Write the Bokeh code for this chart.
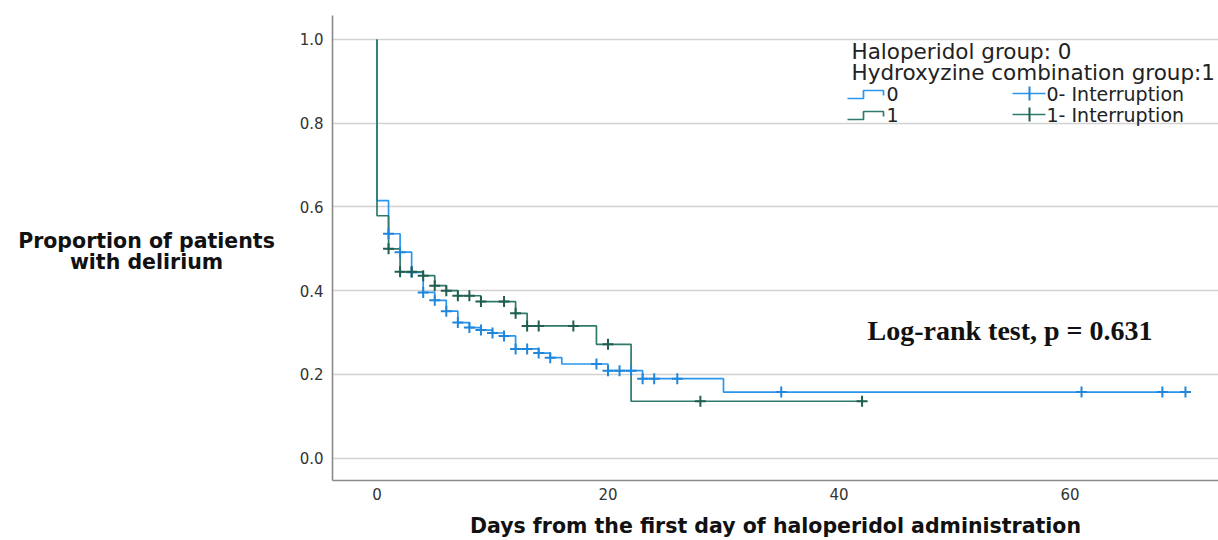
import numpy as np
from bokeh.plotting import figure
from bokeh.layouts import row
from bokeh.models import Range1d, Label, PrintfTickFormatter
from bokeh.embed import file_html
from bokeh.resources import INLINE

# ---------------- data ----------------
# Group 0 (light blue): event days and survival proportion after the events
days_0 = [0, 1, 2, 3, 4, 5, 6, 7, 8, 9, 10, 11, 12, 14, 15, 16, 20, 23, 30]
surv_0 = [0.615, 0.536, 0.492, 0.444, 0.396, 0.377, 0.351, 0.324, 0.312, 0.306,
          0.299, 0.292, 0.261, 0.251, 0.240, 0.225, 0.209, 0.190, 0.158]
cens_0 = [1, 2, 3, 4, 5, 6, 7, 8, 9, 10, 11, 12, 13, 14, 15, 19, 20, 21, 22,
          23, 24, 26, 35, 61, 68, 70]
end_0 = 70

# Group 1 (dark teal)
days_1 = [0, 1, 2, 4, 5, 6, 7, 9, 12, 13, 19, 22]
surv_1 = [0.579, 0.500, 0.445, 0.436, 0.412, 0.400, 0.388, 0.374, 0.346,
          0.316, 0.272, 0.136]
cens_1 = [1, 2, 3, 4, 5, 6, 7, 8, 9, 11, 12, 13, 14, 17, 20, 28, 42]
end_1 = 42

x_ticks = [0, 20, 40, 60]
y_ticks = [0.0, 0.2, 0.4, 0.6, 0.8, 1.0]

x_title = "Days from the first day of haloperidol administration"
y_title = ["Proportion of patients", "with delirium"]
legend_title = ["Haloperidol group: 0", "Hydroxyzine combination group:1"]
legend_labels = ["0", "1"]
legend_cens_labels = ["0- Interruption", "1- Interruption"]
test_text = "Log-rank test, p = 0.631"

BLUE = "#2b96ec"
BLUE_MARK = "#1f86db"
TEAL = "#2f7a6c"
TEAL_MARK = "#1f5e50"

# ---------------- layout ----------------
W, H = 1218, 540
LW = 290                                  # width of the left title panel
FL, FR, FT, FB = 332, 1218, 15, 480       # frame edges in page pixels
X0, X1 = -3.853, 72.86
Y0, Y1 = -0.0533, 1.0573


def dx(px):   # page pixel -> data x
    return X0 + (px - FL) / (FR - FL) * (X1 - X0)


def dy(py):   # page pixel -> data y
    return Y1 - (py - FT) / (FB - FT) * (Y1 - Y0)


def km_path(days, surv, end):
    xs = [0] + list(days) + [end]
    ys = [1.0] + list(surv) + [surv[-1]]
    return xs, ys


def value_at(days, surv, d):
    i = np.searchsorted(np.asarray(days), d, side="right") - 1
    return surv[i]


# ---- left panel holding the horizontal y-axis title ----
# (its frame is aligned with the main plot's frame, rows FT..FB)
left = figure(width=LW, height=H, x_range=Range1d(0, LW), y_range=Range1d(FB, FT),
              output_backend="svg", toolbar_location=None,
              x_axis_type=None, y_axis_type=None,
              min_border_left=0, min_border_right=0, min_border_top=0, min_border_bottom=0)
left.outline_line_color = None
left.xgrid.visible = False
left.ygrid.visible = False
left.border_fill_color = "white"
for t, yy in zip(y_title, [240, 261]):
    left.add_layout(Label(x=146, y=yy, text=t, text_font="DejaVu Sans",
                          text_font_style="bold", text_font_size="20.5px",
                          text_color="#111111", text_baseline="middle", text_align="center"))

# ---- main plot ----
p = figure(width=W - LW, height=H, x_range=Range1d(X0, X1), y_range=Range1d(Y0, Y1),
           output_backend="svg", toolbar_location=None,
           min_border_left=FL - LW, min_border_right=W - FR,
           min_border_top=FT, min_border_bottom=H - FB)
p.outline_line_color = None
p.background_fill_color = "white"
p.border_fill_color = "white"

p.xgrid.grid_line_color = None
p.ygrid.grid_line_color = "#d2d2d2"
p.ygrid.grid_line_width = 1.6

for ax in (p.xaxis, p.yaxis):
    ax.axis_line_color = "#8a8a8a"
    ax.axis_line_width = 1.6
    ax.major_tick_line_color = None
    ax.minor_tick_line_color = None
    ax.major_tick_out = 0
    ax.major_tick_in = 0
    ax.major_label_text_font = "DejaVu Sans"
    ax.major_label_text_color = "#333333"
    ax.major_label_text_font_size = "15px"

p.xaxis.ticker = x_ticks
p.yaxis.ticker = y_ticks
p.yaxis.formatter = PrintfTickFormatter(format="%.1f")
p.xaxis.major_label_standoff = 7
p.yaxis.major_label_standoff = 9

p.xaxis.axis_label = x_title
p.xaxis.axis_label_text_font = "DejaVu Sans"
p.xaxis.axis_label_text_font_style = "bold"
p.xaxis.axis_label_text_font_size = "20.5px"
p.xaxis.axis_label_text_color = "#111111"
p.xaxis.axis_label_standoff = 11

# ---------------- curves ----------------
x0, y0 = km_path(days_0, surv_0, end_0)
x1, y1 = km_path(days_1, surv_1, end_1)
p.step(x0, y0, mode="after", line_color=BLUE, line_width=1.7)
p.step(x1, y1, mode="after", line_color=TEAL, line_width=1.7)

c0y = [value_at(days_0, surv_0, d) for d in cens_0]
c1y = [value_at(days_1, surv_1, d) for d in cens_1]
p.scatter(cens_0, c0y, marker="cross", size=11, line_color=BLUE_MARK, line_width=2)
p.scatter(cens_1, c1y, marker="cross", size=11, line_color=TEAL_MARK, line_width=2)

# ---------------- legend (drawn by hand) ----------------
for t, yy in zip(legend_title, [51, 72]):
    p.add_layout(Label(x=dx(851), y=dy(yy), text=t, text_font="DejaVu Sans",
                       text_font_size="21.5px", text_color="#222222",
                       text_baseline="middle", text_align="left"))

for lab, clab, col, mcol, yy in zip(legend_labels, legend_cens_labels,
                                    [BLUE, TEAL], [BLUE_MARK, TEAL_MARK], [93, 114]):
    # step-shaped icon
    p.line([dx(847), dx(863), dx(863), dx(883), dx(883)],
           [dy(yy + 5), dy(yy + 5), dy(yy - 3), dy(yy - 3), dy(yy + 2)],
           line_color=col, line_width=1.7)
    p.add_layout(Label(x=dx(886), y=dy(yy), text=lab, text_font="DejaVu Sans",
                       text_font_size="19px", text_color="#222222",
                       text_baseline="middle", text_align="left"))
    # censor icon
    p.line([dx(1012), dx(1045)], [dy(yy), dy(yy)], line_color=col, line_width=1.7)
    p.line([dx(1029), dx(1029)], [dy(yy - 7), dy(yy + 7)], line_color=mcol, line_width=2)
    p.add_layout(Label(x=dx(1046), y=dy(yy), text=clab, text_font="DejaVu Sans",
                       text_font_size="19px", text_color="#222222",
                       text_baseline="middle", text_align="left"))

# ---------------- test annotation ----------------
p.add_layout(Label(x=dx(867), y=dy(330), text=test_text, text_font="Liberation Serif",
                   text_font_style="bold", text_font_size="28px", text_color="#111111",
                   text_baseline="middle", text_align="left"))

layout = row(left, p)
open("out.html", "w").write(file_html(layout, INLINE))
